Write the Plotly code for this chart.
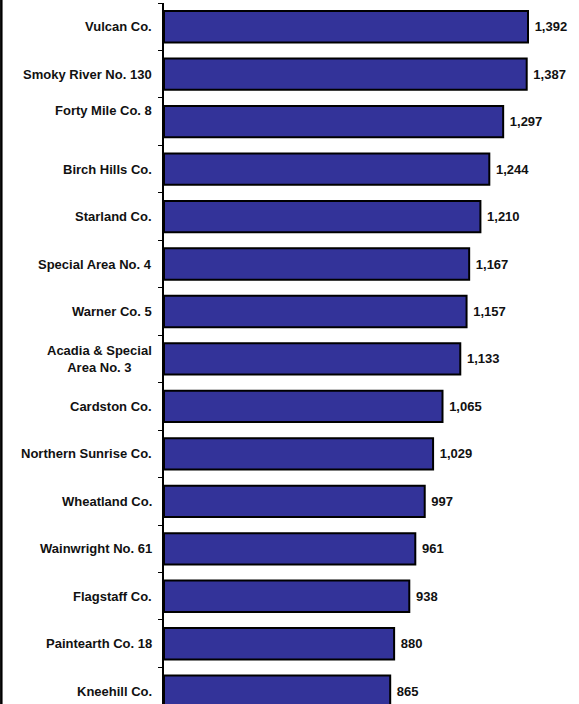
import plotly.graph_objects as go

# top to bottom
municipalities = [
    "Vulcan Co.",
    "Smoky River No. 130",
    "Forty Mile Co. 8",
    "Birch Hills Co.",
    "Starland Co.",
    "Special Area No. 4",
    "Warner Co. 5",
    "Acadia & Special<br>Area No. 3",
    "Cardston Co.",
    "Northern Sunrise Co.",
    "Wheatland Co.",
    "Wainwright No. 61",
    "Flagstaff Co.",
    "Paintearth Co. 18",
    "Kneehill Co.",
]
values = [1392, 1387, 1297, 1244, 1210, 1167, 1157, 1133, 1065, 1029, 997, 961, 938, 880, 865]

FONT = "Liberation Sans, Arial, sans-serif"
FONT_SIZE = 13

fig = go.Figure()

fig.add_trace(
    go.Bar(
        x=values,
        y=municipalities,
        orientation="h",
        width=0.66,
        marker={"color": "#333399", "line": {"color": "#000000", "width": 2}},
        text=values,
        texttemplate=" <b>%{x:,}</b>",
        textposition="outside",
        textfont={"family": FONT, "size": FONT_SIZE, "color": "#111111"},
        cliponaxis=False,
        showlegend=False,
        hoverinfo="skip",
    )
)

# category labels as annotations so the two-line one stays centred
for name in municipalities:
    fig.add_annotation(
        x=0,
        xref="paper",
        y=name,
        yref="y",
        text=f"<b>{name}</b>",
        showarrow=False,
        xanchor="right",
        yanchor="middle",
        align="center",
        xshift=-10,
        yshift=11 if name.startswith("Forty") else 0,
        font={"family": FONT, "size": FONT_SIZE, "color": "#111111"},
    )

# left frame line
fig.add_shape(
    type="line",
    xref="paper",
    yref="paper",
    x0=-0.392,
    x1=-0.392,
    y0=-0.1,
    y1=1.1,
    line={"color": "#000000", "width": 2.5},
)

fig.update_xaxes(
    range=[0, 1587],
    visible=False,
    showgrid=False,
    zeroline=False,
)

fig.update_yaxes(
    type="category",
    categoryorder="array",
    categoryarray=municipalities,
    range=[14.27, -0.5],
    showticklabels=False,
    ticks="outside",
    tickson="boundaries",
    ticklen=4,
    tickwidth=1.2,
    tickcolor="#000000",
    showline=True,
    linecolor="#000000",
    linewidth=2,
    showgrid=False,
)

fig.update_layout(
    width=579,
    height=704,
    margin={"l": 164, "r": 0, "t": 3, "b": 0},
    plot_bgcolor="#ffffff",
    paper_bgcolor="#ffffff",
    font={"family": FONT},
)

fig.write_html(
    "out.html",
    config={"displayModeBar": False},
    post_script="document.body.style.margin='0';document.body.style.overflow='hidden';",
)
